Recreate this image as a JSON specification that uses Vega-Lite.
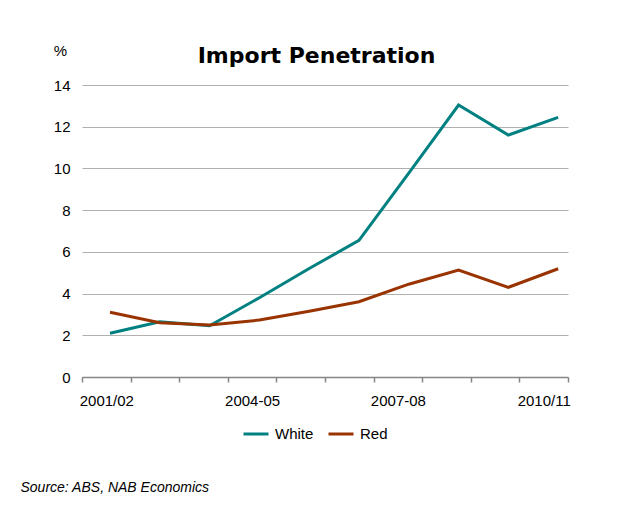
{
  "$schema": "https://vega.github.io/schema/vega-lite/v6.json",
  "width": 486,
  "height": 292,
  "autosize": "none",
  "padding": {"left": 82, "top": 85, "right": 73, "bottom": 137},
  "background": "white",
  "config": {
    "view": {"stroke": null},
    "font": "Liberation Sans",
    "axis": {"labelFont": "Liberation Sans", "titleFont": "Liberation Sans"},
    "legend": {"labelFont": "Liberation Sans"}
  },
  "title": {
    "text": "Import Penetration",
    "font": "DejaVu Sans",
    "fontSize": 22,
    "fontWeight": "bold",
    "color": "black",
    "anchor": "middle",
    "dx": -8.5,
    "baseline": "alphabetic",
    "offset": -42
  },
  "data": {
    "values": [
      {"year": "2001/02", "series": "White", "value": 2.1},
      {"year": "2002-03", "series": "White", "value": 2.65},
      {"year": "2003-04", "series": "White", "value": 2.46},
      {"year": "2004-05", "series": "White", "value": 3.8},
      {"year": "2005-06", "series": "White", "value": 5.2},
      {"year": "2006-07", "series": "White", "value": 6.55},
      {"year": "2007-08", "series": "White", "value": 9.77},
      {"year": "2008-09", "series": "White", "value": 13.04},
      {"year": "2009-10", "series": "White", "value": 11.6},
      {"year": "2010/11", "series": "White", "value": 12.45},
      {"year": "2001/02", "series": "Red", "value": 3.1},
      {"year": "2002-03", "series": "Red", "value": 2.6},
      {"year": "2003-04", "series": "Red", "value": 2.49},
      {"year": "2004-05", "series": "Red", "value": 2.73},
      {"year": "2005-06", "series": "Red", "value": 3.15},
      {"year": "2006-07", "series": "Red", "value": 3.61},
      {"year": "2007-08", "series": "Red", "value": 4.45},
      {"year": "2008-09", "series": "Red", "value": 5.13},
      {"year": "2009-10", "series": "Red", "value": 4.3},
      {"year": "2010/11", "series": "Red", "value": 5.19}
    ]
  },
  "encoding": {
    "y": {
      "field": "value",
      "type": "quantitative",
      "scale": {"domain": [0, 14], "nice": false, "zero": true},
      "axis": {
        "title": "%",
        "titleAngle": 0,
        "titleX": -22,
        "titleY": -30,
        "titleAlign": "center",
        "titleBaseline": "alphabetic",
        "titleFont": "Liberation Sans",
        "titleFontSize": 15,
        "titleFontWeight": "normal",
        "titleColor": "black",
        "values": [0, 2, 4, 6, 8, 10, 12, 14],
        "ticks": false,
        "domain": false,
        "labelFont": "Liberation Sans",
        "labelFontSize": 15,
        "labelPadding": 12,
        "labelColor": "black",
        "gridColor": "#b0b0b0",
        "gridWidth": 1
      }
    }
  },
  "layer": [
    {
      "mark": {"type": "line", "opacity": 0},
      "encoding": {
        "x": {
          "field": "year",
          "type": "ordinal",
          "sort": null,
          "scale": {"type": "band", "paddingInner": 0, "paddingOuter": 0},
          "axis": {
            "title": "Source: ABS, NAB Economics",
            "titleX": -62,
            "titleY": 114,
            "titleAlign": "left",
            "titleAnchor": "start",
            "titleBaseline": "alphabetic",
            "titleFont": "Liberation Sans",
            "titleFontStyle": "italic",
            "titleFontWeight": "normal",
            "titleFontSize": 14,
            "titleColor": "black",
            "labelAngle": 0,
            "labelFont": "Liberation Sans",
            "labelFontSize": 15,
            "labelPadding": 11,
            "labelColor": "black",
            "labelOverlap": false,
            "labelExpr": "indexof(['2001/02','2004-05','2007-08','2010/11'], datum.value) >= 0 ? datum.value : ''",
            "tickSize": 5,
            "tickBand": "extent",
            "domainColor": "#868686",
            "tickColor": "#868686",
            "domainWidth": 1.5,
            "tickWidth": 1.5,
            "grid": false
          }
        },
        "detail": {"field": "series"}
      }
    },
    {
      "mark": {"type": "line", "strokeWidth": 3},
      "encoding": {
        "x": {
          "field": "year",
          "type": "ordinal",
          "sort": null,
          "scale": {"type": "point", "padding": 0.38, "align": 0.74},
          "axis": null
        },
        "color": {
          "field": "series",
          "type": "nominal",
          "scale": {"domain": ["White", "Red"], "range": ["#008080", "#993300"]},
          "legend": {
            "orient": "none",
            "legendX": 160,
            "legendY": 335,
            "direction": "horizontal",
            "title": null,
            "symbolType": "stroke",
            "symbolSize": 625,
            "symbolStrokeWidth": 3,
            "labelFont": "Liberation Sans",
            "labelFontSize": 15,
            "labelColor": "black",
            "labelOffset": 5,
            "columnPadding": 8,
            "padding": 0
          }
        }
      }
    }
  ],
  "resolve": {"scale": {"x": "independent"}, "axis": {"x": "independent"}}
}
